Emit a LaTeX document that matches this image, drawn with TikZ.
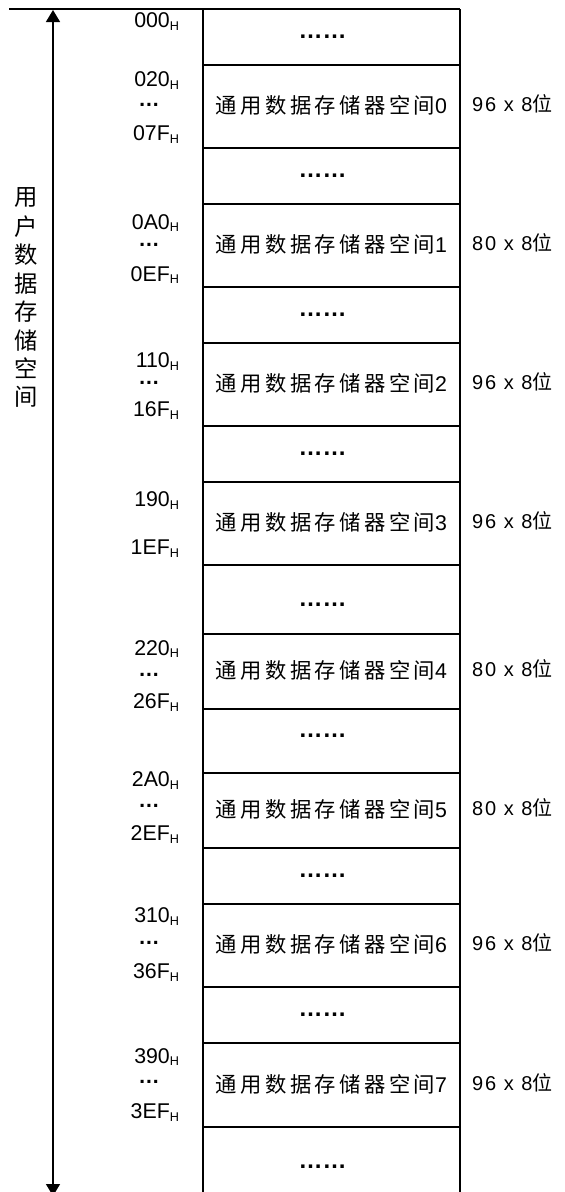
\documentclass[tikz,border=0pt]{standalone}
\usepackage{fontspec}
\setmainfont{Liberation Sans}
\newfontfamily\cjkf{Noto Sans CJK SC}
\newfontfamily\cjkwide[LetterSpace=16]{Noto Sans CJK SC}
\newfontfamily\latwide[LetterSpace=10]{Liberation Sans}
\newfontfamily\cjkmid[LetterSpace=10]{Noto Sans CJK SC}
\usetikzlibrary{arrows.meta}
\newcommand\hexaddr[1]{{\fontsize{16}{18}\selectfont #1}{\fontsize{9.5}{10}\selectfont\raisebox{-2pt}{H}}}
\begin{document}
\begin{tikzpicture}[x=0.75pt,y=-0.75pt,
  frame/.style={line width=1pt, draw=black},
  txt/.style={inner sep=0pt, outer sep=0pt},
  addrlbl/.style={txt, anchor=base east, text height=8pt, text depth=0pt},
  adots/.style={txt, anchor=base, text height=2pt, text depth=0pt, font=\fontsize{16}{18}\selectfont\bfseries},
  rowdots/.style={txt, anchor=base, text height=2pt, text depth=0pt, font=\fontsize{18}{20}\selectfont\bfseries},
  spacelbl/.style={txt, anchor=base, font=\fontsize{16}{18}\selectfont},
  sizelbl/.style={txt, anchor=base west, font=\fontsize{15}{17}\selectfont},
  vchar/.style={txt, font=\fontsize{17.5}{19}\selectfont\cjkf},
  spanarrow/.style={line width=1pt, {Triangle[width=10.5pt,length=9pt]}-{Triangle[width=10.5pt,length=9pt]}}
]
\useasboundingbox (0,0) rectangle (564,1192);
% frame
\draw[frame] (9,9) -- (460,9);
\draw[frame] (203,9) -- (203,1200);
\draw[frame] (460,9) -- (460,1200);
\foreach \yy in {65,148,204,287,343,426,482,565,634,709,773,848,904,987,1043,1127}
  \draw[frame] (203,\yy) -- (460,\yy);
% span arrow
\coordinate (atop) at (53,10);
\coordinate (abot) at (53,1196);
\draw[spanarrow] (atop) -- (abot);
% vertical text
\foreach \c [count=\i] in {用,户,数,据,存,储,空,间}
  \node[vchar] (v\i) at (26,{198+28.43*(\i-1)}) {\c};
% space labels
\foreach \yc/\k in {106.5/0,245.5/1,384.5/2,523.5/3,671.5/4,810.5/5,945.5/6,1085/7}
  \node[spacelbl] (s\k) at (331.5,{\yc+7}) {{\cjkwide 通用数据存储器空间}\k};
% size labels
\foreach \yc/\sz/\k in {106.5/96/0,245.5/80/1,384.5/96/2,523.5/96/3,671.5/80/4,810.5/80/5,945.5/96/6,1085/96/7}
  \node[sizelbl] (z\k) at (472,{\yc+5}) {{\latwide \sz{} x 8}{\cjkmid 位}};
% dotted rows
\foreach \yd [count=\i] in {37,176,315,454,605.5,736,876,1015,1167}
  \node[rowdots] (d\i) at (322.5,{\yd+1.3}) {……};
% addresses
\foreach \yd/\t/\k in {20/000/a,79/020/b,133/07F/c,221.5/0A0/d,273.5/0EF/e,360/110/f,409/16F/g,499/190/h,547/1EF/i,647.5/220/j,701/26F/k,779/2A0/l,833/2EF/m,915/310/n,971/36F/o,1055.5/390/p,1111/3EF/q}
  \node[addrlbl] (h\k) at (179,{\yd+7.5}) {\hexaddr{\t}};
\foreach \yd [count=\i] in {105,245,383,675,806,943,1082}
  \node[adots] (e\i) at (149,{\yd+1}) {…};
\end{tikzpicture}
\end{document}
